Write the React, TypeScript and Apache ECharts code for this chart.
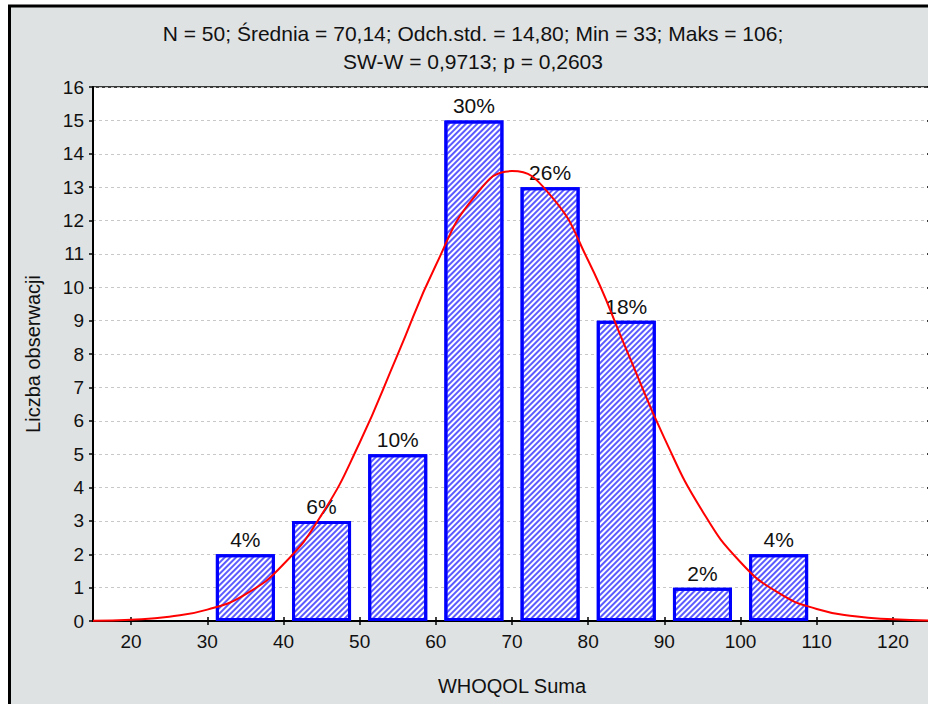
import React, { useEffect, useRef } from 'react';
import * as echarts from 'echarts';

const titleLines = [
  'N = 50; Średnia = 70,14; Odch.std. = 14,80; Min = 33; Maks = 106;',
  'SW-W = 0,9713; p = 0,2603',
];
const xAxisName = 'WHOQOL Suma';
const yAxisName = 'Liczba obserwacji';

const binCenters = [35, 45, 55, 65, 75, 85, 95, 105];
const counts = [2, 3, 5, 15, 13, 9, 1, 2];
const percentLabels = ['4%', '6%', '10%', '30%', '26%', '18%', '2%', '4%'];

const curveX = [15, 20, 25, 30, 35, 40, 45, 50, 55, 60, 65, 70, 75, 80, 85, 90, 95, 100, 105, 110, 115, 120, 125];
const curveY = [0.01, 0.04, 0.13, 0.34, 0.8, 1.7, 3.18, 5.34, 7.99, 10.66, 12.69, 13.48, 12.77, 10.8, 8.14, 5.48, 3.29, 1.76, 0.84, 0.36, 0.14, 0.05, 0.01];

const xTickValues = [20, 30, 40, 50, 60, 70, 80, 90, 100, 110, 120];

const FONT = '"Liberation Sans", Arial, sans-serif';

export default function App() {
  const ref = useRef<HTMLDivElement>(null);
  useEffect(() => {
    if (!ref.current) return;
    const chart = echarts.init(ref.current, undefined, { renderer: 'svg' });
    const option: any = {
      animation: false,
      textStyle: { fontFamily: FONT, color: '#111' },
      graphic: [
        {
          type: 'rect',
          z: -100,
          shape: { x: 9.5, y: 6, width: 1000, height: 1000 },
          style: { fill: '#dfe2e3', stroke: '#000', lineWidth: 3 },
        },
        {
          type: 'text',
          x: 473,
          y: 33,
          style: { text: titleLines[0], textAlign: 'center', textVerticalAlign: 'middle', font: `21px ${FONT}`, fill: '#111' },
        },
        {
          type: 'text',
          x: 473,
          y: 61,
          style: { text: titleLines[1], textAlign: 'center', textVerticalAlign: 'middle', font: `21px ${FONT}`, fill: '#111' },
        },
      ],
      grid: {
        left: 93,
        top: 87,
        right: -3,
        bottom: 83,
        containLabel: false,
        outerBoundsMode: 'none',
        show: true,
        backgroundColor: '#fff',
        borderColor: '#000',
        borderWidth: 1.5,
      },
      xAxis: [
        {
          type: 'value',
          min: 15,
          max: 125,
          position: 'bottom',
          name: xAxisName,
          nameLocation: 'middle',
          nameGap: 55,
          nameTextStyle: { fontSize: 20, color: '#111', fontFamily: FONT },
          axisLine: { show: true, onZero: false, lineStyle: { color: '#000', width: 2 } },
          axisTick: { show: true, inside: true, length: 4, customValues: xTickValues, lineStyle: { color: '#000', width: 1.5 } },
          axisLabel: { show: true, fontSize: 19, color: '#111', margin: 11, customValues: xTickValues },
          splitLine: { show: false },
        },
        {
          type: 'value',
          min: 15,
          max: 125,
          position: 'top',
          axisLine: { show: false },
          axisTick: { show: true, inside: true, length: 4, customValues: xTickValues, lineStyle: { color: '#000', width: 1.5 } },
          axisLabel: { show: false },
          splitLine: { show: false },
        },
      ],
      yAxis: [
        {
          type: 'value',
          min: 0,
          max: 16,
          interval: 1,
          position: 'left',
          name: yAxisName,
          nameLocation: 'middle',
          nameGap: 50,
          nameRotate: 90,
          nameTextStyle: { fontSize: 20, color: '#111', fontFamily: FONT },
          axisLine: { show: true, lineStyle: { color: '#000', width: 2 } },
          axisTick: { show: true, inside: false, length: 4, lineStyle: { color: '#000', width: 1.5 } },
          axisLabel: { fontSize: 19, color: '#111', margin: 9 },
          splitLine: { show: true, lineStyle: { color: '#c8c8c8', type: [3, 3], width: 1 } },
        },
        {
          type: 'value',
          min: 0,
          max: 16,
          interval: 1,
          position: 'right',
          axisLine: { show: false },
          axisTick: { show: true, inside: true, length: 4, lineStyle: { color: '#000', width: 1.5 } },
          axisLabel: { show: false },
          splitLine: { show: false },
        },
      ],
      series: [
        {
          type: 'bar',
          xAxisIndex: 0,
          yAxisIndex: 0,
          barWidth: 59,
          data: binCenters.map((x, i) => [x, counts[i]]),
          itemStyle: {
            color: '#ffffff',
            borderColor: '#0000ff',
            borderWidth: 3,
            decal: {
              symbol: 'rect',
              symbolSize: 1,
              dashArrayX: [1, 0],
              dashArrayY: [2, 2],
              rotation: -Math.PI / 4,
              color: 'rgba(45,45,255,0.78)',
            },
          },
          label: {
            show: true,
            position: 'top',
            distance: 4,
            fontSize: 21,
            color: '#111',
            fontFamily: FONT,
            formatter: (p: any) => percentLabels[p.dataIndex],
          },
          z: 2,
        },
        {
          type: 'line',
          xAxisIndex: 0,
          yAxisIndex: 0,
          smooth: true,
          symbol: 'none',
          data: curveX.map((x, i) => [x, curveY[i]]),
          lineStyle: { color: '#ff0000', width: 2 },
          z: 3,
        },
      ],
    };
    chart.setOption(option);
    return () => chart.dispose();
  }, []);
  return <div ref={ref} style={{ position: 'absolute', left: 0, top: 0, width: 928, height: 704 }} />;
}
